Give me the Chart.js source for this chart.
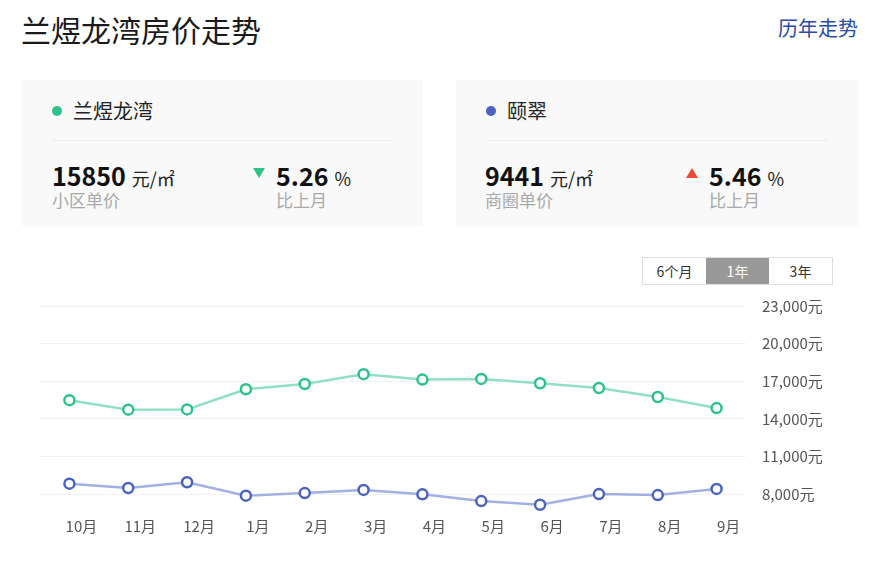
<!DOCTYPE html>
<html>
<head>
<meta charset="utf-8">
<script src="https://cdn.jsdelivr.net/npm/chart.js@4/dist/chart.umd.min.js"></script>
<style>
  body { margin: 0; background: #fff; font-family: "Noto Sans CJK SC", "Noto Sans", sans-serif; width: 877px; height: 562px; overflow: hidden; position: relative; }
  .title { position: absolute; left: 21px; top: 7px; font-size: 30px; color: #1a1a1a; }
  .more { position: absolute; right: 19px; top: 13px; font-size: 20px; color: #2b4ba6; }
  .card { position: absolute; top: 80px; height: 146px; background: #f9f9f9; }
  .card .name { position: absolute; left: 30px; top: 16px; font-size: 20px; color: #222; }
  .card .dot { display: inline-block; width: 10px; height: 10px; border-radius: 50%; margin-right: 11px; vertical-align: 3px; }
  .card .line { position: absolute; left: 30px; right: 30px; top: 60px; border-top: 1px solid #eeeeee; }
  .card .val { position: absolute; top: 77px; font-size: 25px; font-weight: bold; color: #111; }
  .card .val small { font-size: 18px; font-weight: normal; color: #222; margin-left: 2px; }
  .card .sub { position: absolute; top: 107px; font-size: 17px; color: #a8a8a8; }
  .tri { position: absolute; top: 88px; width: 0; height: 0; border-left: 6px solid transparent; border-right: 6px solid transparent; }
  .tabs { position: absolute; left: 642px; top: 257px; height: 26px; border: 1px solid #ddd; display: flex; font-size: 14px; color: #333; background: #fff; }
  .tabs div { width: 63px; text-align: center; line-height: 26px; }
  .tabs .on { background: #999; color: #fff; }
  #wrap { position: absolute; left: 0; top: 281px; width: 877px; height: 262px; }
</style>
</head>
<body>
<div id="wrap"><canvas id="myChart"></canvas></div>

<div class="title">兰煜龙湾房价走势</div>
<div class="more">历年走势</div>

<div class="card" style="left:22px;width:401px;">
  <div class="name"><span class="dot" style="background:#2ec28b"></span>兰煜龙湾</div>
  <div class="line"></div>
  <div class="val" style="left:30px;">15850<small> 元/㎡</small></div>
  <div class="sub" style="left:30px;">小区单价</div>
  <div class="tri" style="left:231px;border-top:10px solid #2ec28b;top:88px;"></div>
  <div class="val" style="left:254px;">5.26<small> %</small></div>
  <div class="sub" style="left:254px;">比上月</div>
</div>

<div class="card" style="left:456px;width:403px;">
  <div class="name"><span class="dot" style="background:#4b63c0"></span>颐翠</div>
  <div class="line"></div>
  <div class="val" style="left:29px;">9441<small> 元/㎡</small></div>
  <div class="sub" style="left:29px;">商圈单价</div>
  <div class="tri" style="left:230px;border-bottom:10px solid #ee4b37;top:88px;"></div>
  <div class="val" style="left:253px;">5.46<small> %</small></div>
  <div class="sub" style="left:253px;">比上月</div>
</div>

<div class="tabs"><div>6个月</div><div class="on">1年</div><div>3年</div></div>

<script>
var months = ['10月', '11月', '12月', '1月', '2月', '3月', '4月', '5月', '6月', '7月', '8月', '9月'];
var communityPrice = [15500, 14740, 14760, 16370, 16790, 17570, 17140, 17190, 16850, 16470, 15750, 14870];
var districtPrice = [8850, 8500, 8960, 7890, 8100, 8350, 8000, 7460, 7170, 8020, 7940, 8430];
var yTicks = [8000, 11000, 14000, 17000, 20000, 23000];

const ctx = document.getElementById('myChart').getContext('2d');
const myChart = new Chart(ctx, {
   type: 'line',
   data: {
      labels: months,
      datasets: [{
         label: '兰煜龙湾',
         data: communityPrice,
         borderColor: '#93dfc4',
         borderWidth: 2.5,
         pointRadius: 5,
         pointBorderWidth: 2.5,
         pointBorderColor: '#2ec28b',
         pointBackgroundColor: '#fff',
         clip: false,
         tension: 0
      }, {
         label: '颐翠',
         data: districtPrice,
         borderColor: '#a3b1e2',
         borderWidth: 2.5,
         pointRadius: 5,
         pointBorderWidth: 2.5,
         pointBorderColor: '#4b63c0',
         pointBackgroundColor: '#fff',
         clip: false,
         tension: 0
      }]
   },
   options: {
      responsive: true,
      maintainAspectRatio: false,
      animation: false,
      layout: { padding: { left: 40, top: 2, right: 0, bottom: 0 } },
      plugins: { legend: { display: false }, tooltip: { enabled: false } },
      scales: {
         x: {
            offset: true,
            grid: { display: false, drawTicks: false },
            border: { display: false },
            ticks: {
               color: '#555',
               font: { size: 15, family: 'Noto Sans CJK SC' },
               padding: 8,
               labelOffset: 12,
               maxRotation: 0
            }
         },
         y: {
            position: 'right',
            min: 6830,
            max: 23000,
            afterBuildTicks: function (axis) {
               axis.ticks = yTicks.map(function (v) { return { value: v }; });
            },
            afterFit: function (axis) { axis.width = 131; },
            grid: { color: '#f2f2f2', drawTicks: false },
            border: { display: false },
            ticks: {
               color: '#555',
               padding: 16,
               font: { size: 15, family: 'Noto Sans CJK SC' },
               callback: function (v) { return v.toLocaleString('en-US') + '元'; }
            }
         }
      }
   }
});
</script>
</body>
</html>
